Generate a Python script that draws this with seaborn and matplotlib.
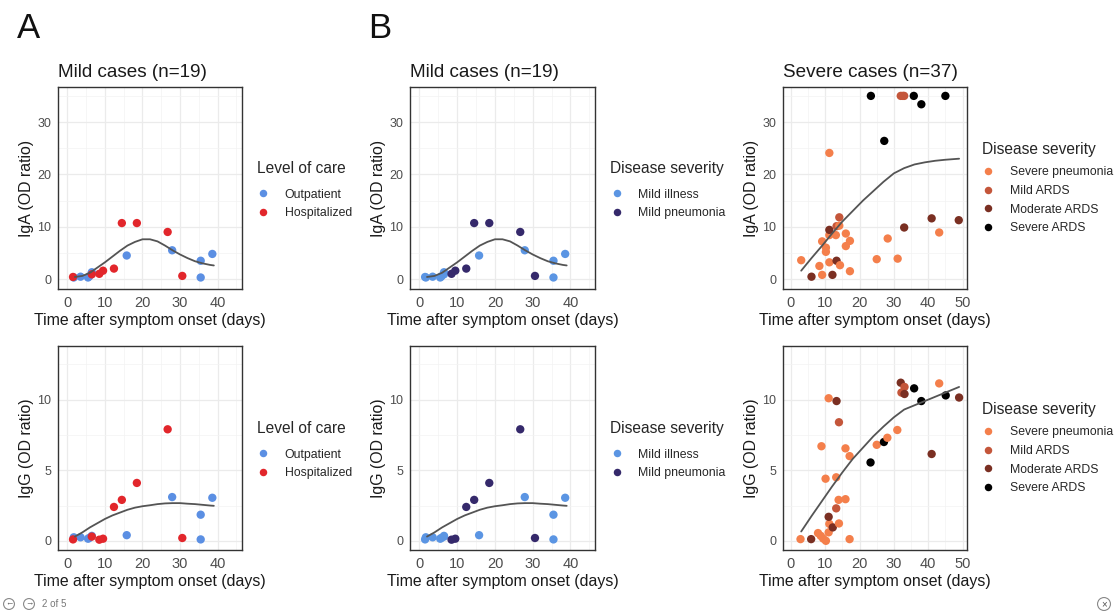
import matplotlib
matplotlib.use("Agg")
import matplotlib.pyplot as plt
import seaborn as sns
from matplotlib.ticker import MultipleLocator

# ---- mild cases (n=19), same patients in IgA and IgG panels ----
mild_day = [1.7, 3.5, 5.5, 5.8, 6.5, 15.8, 27.9, 35.5, 35.5, 38.6,
            1.5, 6.5, 8.5, 9.5, 12.4, 14.5, 18.5, 26.7, 30.6]
mild_iga = [0.3, 0.45, 0.3, 0.5, 1.3, 4.5, 5.5, 3.5, 0.3, 4.8,
            0.4, 0.9, 1.0, 1.6, 2.0, 10.7, 10.7, 9.0, 0.6]
mild_igg = [0.25, 0.25, 0.15, 0.2, 0.35, 0.4, 3.1, 1.85, 0.1, 3.05,
            0.1, 0.3, 0.08, 0.15, 2.4, 2.9, 4.1, 7.9, 0.2]
mild_care = ["Outpatient"] * 10 + ["Hospitalized"] * 9
mild_severity = ["Mild illness"] * 12 + ["Mild pneumonia"] * 7

# smooth (loess) curves
mild_fit_day = [2, 4, 6, 8, 10, 12, 14, 16, 18, 20, 22, 24, 26, 28, 30, 32, 34, 36, 38, 39]
mild_iga_fit = [0.4, 0.6, 1.2, 2.2, 3.2, 4.3, 5.4, 6.4, 7.1, 7.6, 7.6, 7.2, 6.4, 5.5,
                4.7, 4.0, 3.4, 3.0, 2.7, 2.6]
mild_igg_fit = [0.3, 0.6, 0.95, 1.25, 1.55, 1.8, 2.0, 2.2, 2.35, 2.45, 2.52, 2.6, 2.65,
                2.67, 2.67, 2.63, 2.6, 2.55, 2.5, 2.48]

# ---- severe cases (n=37) ----
sev_iga_day = [3.0, 6.0, 8.3, 9.1, 9.1, 10.2, 10.2, 11.2, 11.2, 11.2, 11.2, 12.1, 13.1,
               13.3, 14.1, 14.1, 13.3, 14.3, 16.0, 16.0, 17.2, 17.2, 25.0, 28.2, 31.1,
               33.0, 41.0, 43.2, 48.9, 23.3, 27.2, 32.0, 32.6, 33.0, 35.8, 38.0, 45.0]
sev_iga = [3.6, 0.45, 2.5, 0.8, 7.2, 6.0, 5.2, 3.2, 8.4, 9.4, 24.1, 0.8, 8.4,
           10.1, 11.8, 10.2, 3.5, 2.65, 8.7, 6.3, 7.3, 1.5, 3.8, 7.75, 3.9,
           9.85, 11.6, 8.9, 11.25, 35.0, 26.4, 35.0, 35.0, 35.0, 35.0, 33.4, 35.0]
sev_iga_group = ["Severe pneumonia", "Moderate ARDS", "Severe pneumonia", "Severe pneumonia",
                 "Severe pneumonia", "Severe pneumonia", "Severe pneumonia", "Severe pneumonia",
                 "Severe pneumonia", "Moderate ARDS", "Severe pneumonia", "Moderate ARDS",
                 "Severe pneumonia", "Mild ARDS", "Mild ARDS", "Severe pneumonia",
                 "Moderate ARDS", "Severe pneumonia", "Severe pneumonia", "Severe pneumonia",
                 "Severe pneumonia", "Severe pneumonia", "Severe pneumonia", "Severe pneumonia",
                 "Severe pneumonia", "Moderate ARDS", "Moderate ARDS", "Severe pneumonia",
                 "Moderate ARDS", "Severe ARDS", "Severe ARDS", "Mild ARDS", "Mild ARDS",
                 "Mild ARDS", "Severe ARDS", "Severe ARDS", "Severe ARDS"]

sev_igg_day = [2.8, 5.9, 7.9, 8.7, 9.4, 10.2, 11.0, 11.2, 11.0, 12.2, 13.2, 13.9, 14.0,
               15.9, 10.1, 13.2, 8.9, 15.9, 17.1, 17.1, 11.0, 13.3, 14.0, 23.2, 25.0,
               27.1, 28.1, 31.0, 32.0, 32.2, 33.1, 33.1, 35.9, 38.0, 43.2, 45.1, 49.0, 41.0]
sev_igg = [0.12, 0.12, 0.55, 0.35, 0.16, 0.0, 0.6, 1.2, 1.7, 0.95, 2.3, 2.9, 1.23,
           2.95, 4.4, 4.5, 6.7, 6.55, 6.0, 0.12, 10.1, 9.9, 8.4, 5.55, 6.8,
           7.0, 7.3, 7.85, 11.2, 10.5, 10.9, 10.4, 10.8, 9.9, 11.15, 10.3, 10.15, 6.15]
sev_igg_group = ["Severe pneumonia", "Moderate ARDS", "Severe pneumonia", "Severe pneumonia",
                 "Severe pneumonia", "Severe pneumonia", "Severe pneumonia", "Severe pneumonia",
                 "Moderate ARDS", "Moderate ARDS", "Mild ARDS", "Severe pneumonia",
                 "Severe pneumonia", "Severe pneumonia", "Severe pneumonia", "Severe pneumonia",
                 "Severe pneumonia", "Severe pneumonia", "Severe pneumonia", "Severe pneumonia",
                 "Severe pneumonia", "Moderate ARDS", "Mild ARDS", "Severe ARDS",
                 "Severe pneumonia", "Severe ARDS", "Severe pneumonia", "Severe pneumonia",
                 "Moderate ARDS", "Mild ARDS", "Mild ARDS", "Moderate ARDS", "Severe ARDS",
                 "Severe ARDS", "Severe pneumonia", "Severe ARDS", "Moderate ARDS", "Moderate ARDS"]

sev_fit_day = [3, 6, 9, 12, 15, 18, 21, 24, 27, 30, 33, 36, 39, 42, 45, 49]
sev_iga_fit = [1.6, 4.0, 6.3, 8.7, 11.0, 13.0, 15.0, 16.8, 18.6, 20.2, 21.2, 21.9, 22.3,
               22.6, 22.8, 23.0]
sev_igg_fit = [0.66, 1.75, 2.8, 3.85, 4.85, 5.8, 6.6, 7.4, 8.1, 8.75, 9.3, 9.6, 9.9,
               10.2, 10.5, 10.9]

care_order = ["Outpatient", "Hospitalized"]
care_colors = ["#5B8FE3", "#E2262B"]
mild_order = ["Mild illness", "Mild pneumonia"]
mild_colors = ["#5B95E3", "#35296B"]
sev_order = ["Severe pneumonia", "Mild ARDS", "Moderate ARDS", "Severe ARDS"]
sev_colors = ["#F47F4B", "#C4563A", "#7A2F22", "#000000"]

sns.set_theme(style="white")
plt.rcParams['font.family'] = ['Liberation Sans', 'DejaVu Sans']

W, H = 1117, 611
fig = plt.figure(figsize=(W / 100, H / 100), dpi=100)
fig.patch.set_facecolor("white")


def px_axes(x0, y0, x1, y1):
    # axes box given in pixel corners of the picture
    return fig.add_axes([x0 / W, 1 - y1 / H, (x1 - x0) / W, (y1 - y0) / H])


def draw_panel(ax, day, value, group, order, colors, fit_day, fit_value,
               xlim, ylim, ystep, ylabel, legend_title, title=None,
               leg_y=0.49, title_gap=9, spacing=0.5):
    sns.scatterplot(x=day, y=value, hue=group, hue_order=order, palette=colors,
                    s=36, linewidth=0, ax=ax, zorder=3)
    sns.lineplot(x=fit_day, y=fit_value, color="#545454", linewidth=1.3, ax=ax, zorder=4)
    ax.set_xlim(*xlim)
    ax.set_ylim(*ylim)
    ax.xaxis.set_major_locator(MultipleLocator(10))
    ax.xaxis.set_minor_locator(MultipleLocator(5))
    ax.yaxis.set_major_locator(MultipleLocator(ystep))
    ax.yaxis.set_minor_locator(MultipleLocator(ystep / 2))
    ax.grid(which="major", color="#EBEBEB", linewidth=0.9)
    ax.grid(which="minor", color="#F3F3F3", linewidth=0.5)
    ax.set_axisbelow(True)
    for sp in ax.spines.values():
        sp.set_color("#333333")
        sp.set_linewidth(1.0)
    ax.tick_params(which="major", length=3, width=0.8, color="#333333", pad=2)
    ax.tick_params(which="minor", length=0)
    ax.tick_params(axis="x", labelsize=10.5, labelcolor="#4D4D4D")
    ax.tick_params(axis="y", labelsize=9, labelcolor="#4D4D4D")
    ax.set_xlabel("Time after symptom onset (days)", fontsize=11.4, color="#1A1A1A", labelpad=2)
    ax.set_ylabel(ylabel, fontsize=11.4, color="#1A1A1A", labelpad=2)
    if title:
        ax.set_title(title, loc="left", fontsize=13.6, color="#1A1A1A", pad=7)
    handles, labels = ax.get_legend_handles_labels()
    leg = ax.legend(handles=handles, labels=labels, title=legend_title, loc="center left",
                    bbox_to_anchor=(1.08, leg_y), frameon=False, alignment="left",
                    fontsize=8.8, title_fontsize=11.2, handlelength=1.1, handletextpad=1.2,
                    labelspacing=spacing, borderaxespad=0, borderpad=0, markerscale=0.9)
    leg._legend_box.sep = title_gap


mild_xlim = (-2.5, 46.5)
sev_xlim = (-2.3, 51.3)
iga_ylim = (-1.9, 36.7)
igg_ylim = (-0.65, 13.8)

ax = px_axes(58, 87, 242, 289)
draw_panel(ax, mild_day, mild_iga, mild_care, care_order, care_colors, mild_fit_day,
           mild_iga_fit, mild_xlim, iga_ylim, 10, "IgA (OD ratio)", "Level of care",
           "Mild cases (n=19)")
ax = px_axes(58, 346, 242, 550)
draw_panel(ax, mild_day, mild_igg, mild_care, care_order, care_colors, mild_fit_day,
           mild_igg_fit, mild_xlim, igg_ylim, 5, "IgG (OD ratio)", "Level of care")

ax = px_axes(410, 87, 595, 289)
draw_panel(ax, mild_day, mild_iga, mild_severity, mild_order, mild_colors, mild_fit_day,
           mild_iga_fit, mild_xlim, iga_ylim, 10, "IgA (OD ratio)", "Disease severity",
           "Mild cases (n=19)")
ax = px_axes(410, 346, 595, 550)
draw_panel(ax, mild_day, mild_igg, mild_severity, mild_order, mild_colors, mild_fit_day,
           mild_igg_fit, mild_xlim, igg_ylim, 5, "IgG (OD ratio)", "Disease severity")

ax = px_axes(783, 87, 967, 289)
draw_panel(ax, sev_iga_day, sev_iga, sev_iga_group, sev_order, sev_colors, sev_fit_day,
           sev_iga_fit, sev_xlim, iga_ylim, 10, "IgA (OD ratio)", "Disease severity",
           "Severe cases (n=37)", leg_y=0.5, title_gap=7, spacing=0.55)
ax = px_axes(783, 346, 967, 550)
draw_panel(ax, sev_igg_day, sev_igg, sev_igg_group, sev_order, sev_colors, sev_fit_day,
           sev_igg_fit, sev_xlim, igg_ylim, 5, "IgG (OD ratio)", "Disease severity",
           leg_y=0.5, title_gap=7, spacing=0.55)

# panel letters
fig.text(17 / W, 1 - 38 / H, "A", fontsize=25, color="#111111", va="baseline")
fig.text(368 / W, 1 - 38 / H, "B", fontsize=25, color="#111111", va="baseline")

# viewer footer
circ = dict(boxstyle="circle,pad=0.15", fc="white", ec="#888888", lw=0.8)
fig.text(9 / W, 1 - 604 / H, "\u2190", fontsize=6, color="#555555", ha="center", va="center", bbox=circ)
fig.text(29 / W, 1 - 604 / H, "\u2192", fontsize=6, color="#555555", ha="center", va="center", bbox=circ)
fig.text(42 / W, 1 - 604 / H, "2 of 5", fontsize=7, color="#777777", va="center")
fig.text(1104 / W, 1 - 604 / H, "\u00d7", fontsize=7, color="#555555", ha="center", va="center", bbox=circ)

fig.savefig("out.png", dpi=100)
